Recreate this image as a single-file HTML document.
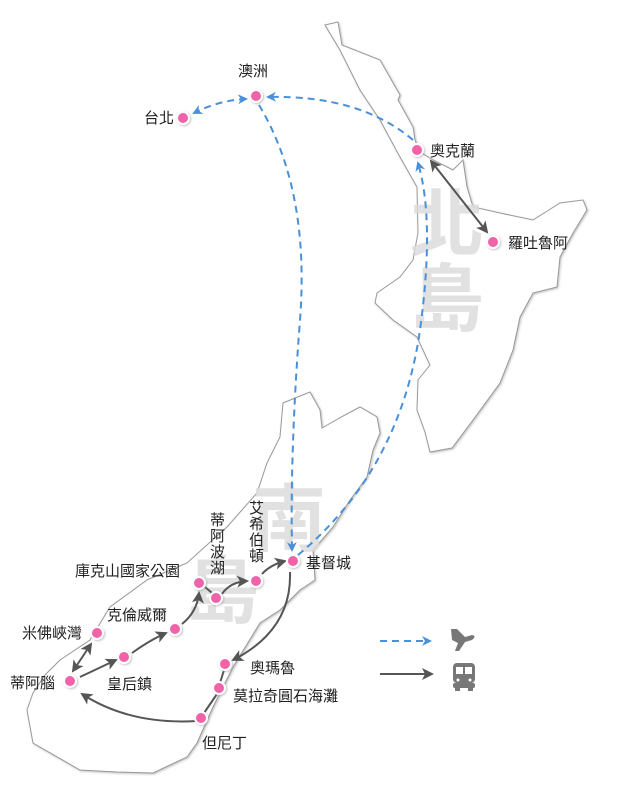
<!DOCTYPE html>
<html><head><meta charset="utf-8"><style>
html,body{margin:0;padding:0;background:#fff;}
svg{display:block}
text{font-family:"Liberation Sans","Noto Sans CJK TC",sans-serif;}
</style></head><body>
<svg width="624" height="804" viewBox="0 0 624 804" xmlns="http://www.w3.org/2000/svg">
<defs>
<marker id="ab" markerWidth="10" markerHeight="10" refX="8" refY="5" orient="auto" markerUnits="userSpaceOnUse"><path d="M0,0 L10,5 L0,10 L3,5 Z" fill="#4a90d9"/></marker>
<marker id="ag" markerWidth="12" markerHeight="12" refX="10" refY="6" orient="auto" markerUnits="userSpaceOnUse"><path d="M0,0 L12,6 L0,12 L3,6 Z" fill="#555"/></marker>
<marker id="agS" markerWidth="12" markerHeight="12" refX="2" refY="6" orient="auto" markerUnits="userSpaceOnUse"><path d="M12,0 L0,6 L12,12 L9,6 Z" fill="#555"/></marker>
<marker id="abS" markerWidth="10" markerHeight="10" refX="2" refY="5" orient="auto" markerUnits="userSpaceOnUse"><path d="M10,0 L0,5 L10,10 L7,5 Z" fill="#4a90d9"/></marker>
<filter id="sh"><feDropShadow dx="1" dy="1" stdDeviation="1" flood-color="#999" flood-opacity="0.6"/></filter>
</defs>
<!-- North island -->
<path d="M325,25 L338,22 L342,45 L380,60 L400,95 L398,100 L413,127 L415,140 L420,152 L433,160 L453,170 L463,160 L467,187 L473,207 L500,213 L533,220 L560,203 L583,200 L587,210 L573,233 L560,257 L557,287 L533,293 L520,317 L513,350 L500,383 L473,420 L452,448 L430,452 L425,432 L417,410 L418,380 L430,365 L417,337 L393,320 L375,303 L377,293 L400,277 L413,260 L418,233 L417,187 L400,157 L380,120 L360,90 L340,50 Z" fill="#fff" stroke="#999" stroke-width="1" filter="url(#sh)"/>
<!-- South island -->
<path d="M283,403 L310,392 L320,410 L322,428 L345,415 L360,407 L377,417 L380,433 L373,450 L367,477 L350,500 L333,527 L313,550 L315,580 L300,590 L280,610 L260,623 L233,667 L213,707 L197,743 L187,757 L153,773 L117,772 L80,770 L33,743 L27,710 L33,693 L45,675 L60,660 L90,640 L110,607 L147,580 L187,563 L227,527 L257,493 L267,463 L280,437 Z" fill="#fff" stroke="#999" stroke-width="1" filter="url(#sh)"/>
<!-- big island characters -->
<g fill="#dcdcdc" fill-opacity="0.85" font-size="74" font-weight="bold">
<text x="410" y="250">北</text><text x="410" y="325">島</text>
<text x="252" y="545">南</text><text x="185" y="617">島</text>
</g>
<!-- blue dashed flights -->
<g fill="none" stroke="#4a90d9" stroke-width="2" stroke-dasharray="7,5">
<path d="M246,99 Q220,100 194,113" marker-end="url(#ab)" marker-start="url(#abS)"/>
<path d="M413,140 Q360,95 268,97" marker-end="url(#ab)"/>
<path d="M259,105 Q310,190 300,320 Q290,450 292,550" marker-end="url(#ab)"/>
<path d="M298,555 Q400,470 420,330 Q435,220 418,163" marker-end="url(#ab)"/>
</g>
<!-- gray bus routes -->
<g fill="none" stroke="#555" stroke-width="2">
<path d="M431,161 L487,232" marker-end="url(#ag)" marker-start="url(#agS)"/>
<path d="M290,572 Q292,630 233,660" marker-end="url(#ag)"/>
<path d="M224,670 L220,683 M217,694 L204,713"/>
<path d="M197,721 Q130,725 82,694" marker-end="url(#ag)"/>
<path d="M73,671 L91,644" marker-end="url(#ag)" marker-start="url(#agS)"/>
<path d="M80,677 L116,660" marker-end="url(#ag)"/>
<path d="M132,653 Q150,640 166,633" marker-end="url(#ag)"/>
<path d="M182,624 Q197,612 199,593" marker-end="url(#ag)"/>
<path d="M205,587 L212,593"/>
<path d="M222,594 Q230,582 247,581" marker-end="url(#ag)"/>
<path d="M262,574 Q270,565 285,561" marker-end="url(#ag)"/>
</g>
<!-- nodes -->
<g fill="#f064a8" stroke="#fff" stroke-width="2" filter="url(#sh)">
<circle cx="183" cy="118" r="6"/><circle cx="256" cy="96" r="6"/><circle cx="417" cy="150" r="6"/><circle cx="493" cy="242" r="6"/>
<circle cx="293" cy="561" r="6"/><circle cx="256" cy="581" r="6"/><circle cx="216" cy="598" r="6"/><circle cx="199" cy="583" r="6"/>
<circle cx="175" cy="629" r="6"/><circle cx="124" cy="657" r="6"/><circle cx="97" cy="633" r="6"/><circle cx="70" cy="681" r="6"/>
<circle cx="225" cy="664" r="6"/><circle cx="219" cy="688" r="6"/><circle cx="201" cy="718" r="6"/>
</g>
<!-- labels -->
<g font-size="15" fill="#222">
<text x="238" y="76">澳洲</text>
<text x="144" y="123">台北</text>
<text x="430" y="156">奧克蘭</text>
<text x="508" y="248">羅吐魯阿</text>
<text x="306" y="568">基督城</text>
<text x="75" y="576">庫克山國家公園</text>
<text x="107" y="620">克倫威爾</text>
<text x="22" y="638">米佛峽灣</text>
<text x="10" y="688">蒂阿腦</text>
<text x="107" y="689">皇后鎮</text>
<text x="250" y="673">奧瑪魯</text>
<text x="233" y="701">莫拉奇圓石海灘</text>
<text x="202" y="748">但尼丁</text>
<text x="210" y="525">蒂</text><text x="210" y="541">阿</text><text x="210" y="557">波</text><text x="210" y="573">湖</text>
<text x="249" y="513">艾</text><text x="249" y="529">希</text><text x="249" y="545">伯</text><text x="249" y="561">頓</text>
</g>
<!-- legend -->
<path d="M380,641 L430,641" stroke="#4a90d9" stroke-width="2" stroke-dasharray="7,5" marker-end="url(#ab)"/>
<path d="M380,674 L432,674" stroke="#555" stroke-width="2" marker-end="url(#ag)"/>
<g fill="#777">
<path d="M451,629 L457,629 L465,637 L472,635 Q477,636 472,640 L465,642 L459,651 L455,651 L458,643 L452,640 Z"/>
<rect x="453" y="663" width="22" height="20" rx="4"/>
<rect x="455" y="687" width="5" height="4"/><rect x="468" y="687" width="5" height="4"/>
<rect x="453" y="683" width="22" height="5" rx="2"/>
</g>
<g fill="#fff"><rect x="456" y="667" width="7" height="7"/><rect x="465" y="667" width="7" height="7"/><circle cx="458" cy="680" r="1.5"/><circle cx="470" cy="680" r="1.5"/></g>
</svg>
</body></html>
